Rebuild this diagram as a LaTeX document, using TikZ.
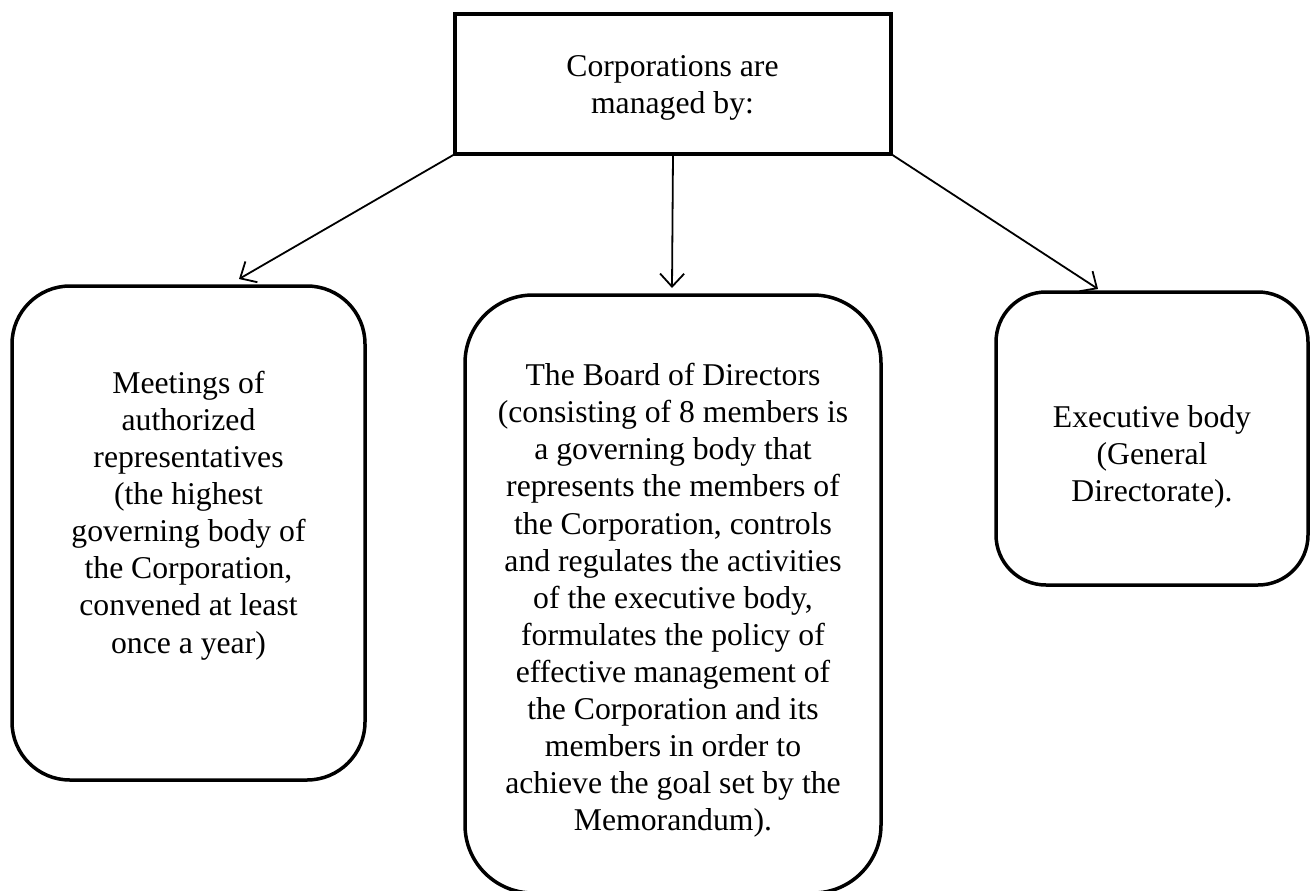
\documentclass[tikz,border=0pt]{standalone}
\usepackage{fontspec}
\setmainfont{Liberation Serif}
\usetikzlibrary{arrows.meta}
\begin{document}
\begin{tikzpicture}[x=1pt,y=-1pt,
  frame/.style={draw=black,line width=3.5pt,inner sep=0pt,outer sep=0pt},
  roundbox/.style={frame,rounded corners=#1},
  caption/.style={align=center,inner sep=0pt,font=\fontsize{31.7}{37.1}\selectfont},
  arr/.style={line width=1.8pt,-{Straight Barb[length=13pt,width=24pt,line width=1.8pt]}}]
\useasboundingbox (0,0) rectangle (1314,891);
\fill[white] (0,0) rectangle (1314,891);

% top box
\node[frame,minimum width=436pt,minimum height=140pt] (top) at (673,84) {};
\node[caption] (toptxt) at (672.5,88) {Corporations are\\managed by:};

% three governing bodies
\node[roundbox=58pt,minimum width=353pt,minimum height=494pt] (left) at (188.5,533) {};
\node[roundbox=68pt,minimum width=416pt,minimum height=598pt] (mid) at (673,594) {};
\node[roundbox=50pt,minimum width=312pt,minimum height=293pt] (right) at (1152,438.5) {};

\node[caption] (lefttxt) at (188.5,515.5) {Meetings of\\authorized\\representatives\\(the highest\\governing body of\\the Corporation,\\convened at least\\once a year)};
\node[caption] (midtxt) at (673,600.5) {The Board of Directors\\(consisting of 8 members is\\a governing body that\\represents the members of\\the Corporation, controls\\and regulates the activities\\of the executive body,\\formulates the policy of\\effective management of\\the Corporation and its\\members in order to\\achieve the goal set by the\\Memorandum).};
\node[caption] (righttxt) at (1152,456.5) {Executive body\\(General\\Directorate).};

% connectors
\draw[arr] (top.south west) -- ([xshift=50.5pt,yshift=7pt]left.north);
\draw[arr] (top.south) -- ([xshift=-1pt,yshift=7pt]mid.north);
\draw[arr] (top.south east) -- ([xshift=-54pt,yshift=3pt]right.north);
\end{tikzpicture}
\end{document}
